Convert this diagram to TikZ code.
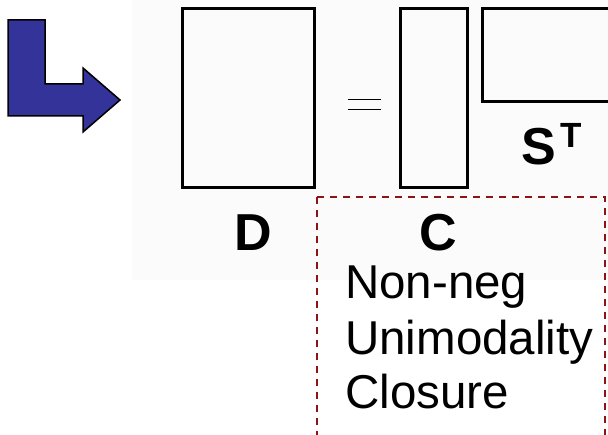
\documentclass[tikz,border=0pt]{standalone}
\usepackage{fontspec}
\setmainfont{Liberation Sans}
\definecolor{arrowblue}{RGB}{51,51,153}
\definecolor{boxred}{RGB}{140,20,20}
\definecolor{panelgray}{RGB}{251,251,251}
\begin{document}
\begin{tikzpicture}[x=1pt,y=-1pt,
  matbox/.style={draw=black,line width=3pt,inner sep=0pt,outer sep=0pt},
  matlabel/.style={inner sep=0pt,font=\fontsize{52}{60}\selectfont\bfseries},
  constraint/.style={anchor=base west,inner sep=0pt,font=\fontsize{47.5}{57}\selectfont},
  groupbox/.style={draw=boxred,line width=1.8pt,dash pattern=on 7pt off 6pt}]
  \useasboundingbox (0,0) rectangle (608,435);
  \clip (0,0) rectangle (608,435);
  % faint panel behind the factorisation
  \fill[panelgray] (132,0) rectangle (608,280);
  % bent arrow
  \draw[fill=arrowblue,line width=1.5pt,line join=miter]
    (8,20) -- (45,20) -- (45,84) -- (83,84) -- (83,68) -- (120,100)
    -- (83,132) -- (83,116) -- (8,116) -- cycle;
  % matrices
  \node[matbox,minimum width=132pt,minimum height=179pt] (Dbox) at (248,98) {};
  \node[matbox,minimum width=66.5pt,minimum height=179.5pt] (Cbox) at (433.75,98.25) {};
  \draw[matbox] (482.5,8.5) rectangle (625,102);
  % equals sign
  \coordinate (eqL) at (348,99.5);
  \coordinate (eqR) at (381,99.5);
  \coordinate (eqL2) at (348,109.5);
  \coordinate (eqR2) at (381,109.5);
  \draw[line width=1.8pt] (eqL) -- (eqR);
  \draw[line width=1.8pt] (eqL2) -- (eqR2);
  % labels
  \node[matlabel,anchor=base] (Dlab) at (253,251) {D};
  \node[matlabel,anchor=base] (Slab) at (539,165) {S};
  \node[inner sep=0pt,anchor=base,font=\fontsize{35}{40}\selectfont\bfseries] (Tlab) at (571,148) {T};
  % constraint group
  \draw[groupbox] (317,197) -- (605,197) -- (605,445);
  \draw[groupbox] (317,197) -- (317,445);
  \node[matlabel,anchor=base] (Clab) at (438.5,251) {C};
  \node[constraint] (c1) at (345,299) {Non-neg};
  \node[constraint] (c2) at (345,355) {Unimodality};
  \node[constraint] (c3) at (345,409) {Closure};
\end{tikzpicture}
\end{document}
